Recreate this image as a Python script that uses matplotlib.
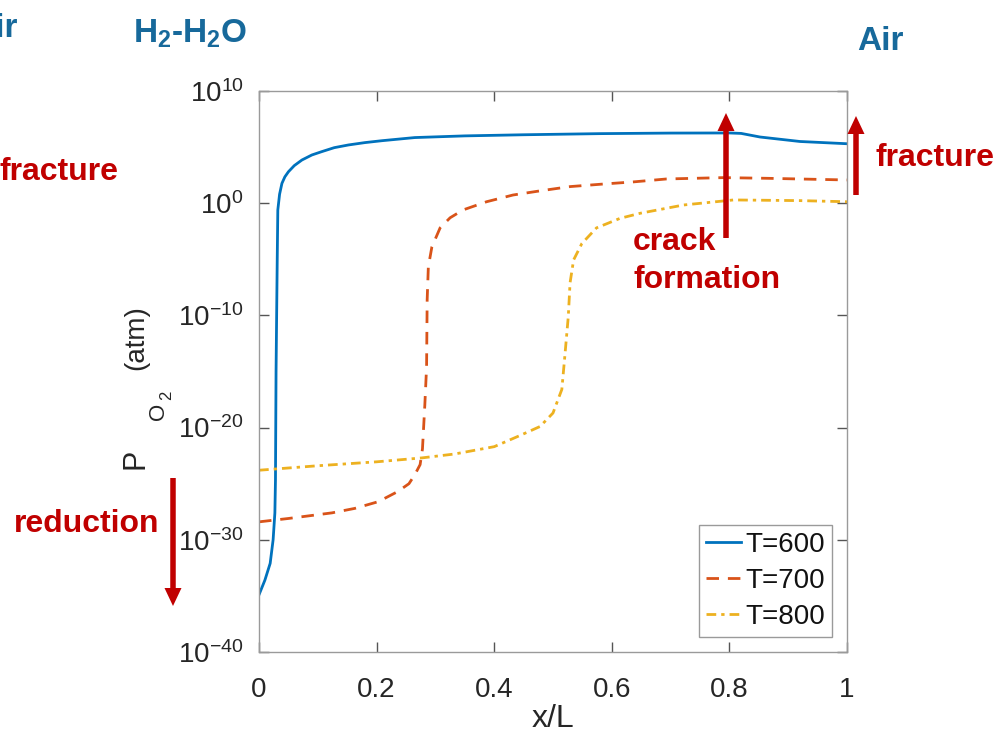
import numpy as np
import matplotlib
matplotlib.use('Agg')
import matplotlib.pyplot as plt
from matplotlib.patches import FancyArrow
from matplotlib.transforms import IdentityTransform

plt.rcParams['font.family'] = ['Liberation Sans', 'DejaVu Sans']
plt.rcParams['mathtext.fontset'] = 'custom'
plt.rcParams['mathtext.rm'] = 'Liberation Sans'
plt.rcParams['mathtext.it'] = 'Liberation Sans:italic'
plt.rcParams['mathtext.bf'] = 'Liberation Sans:bold'
plt.rcParams['axes.unicode_minus'] = False

# ---------------- data (x/L, log10 of P_O2 in atm) ----------------
x_600 = [0.0, 0.01, 0.019, 0.024, 0.027, 0.028, 0.029, 0.031, 0.032, 0.035, 0.039,
         0.044, 0.05, 0.06, 0.073, 0.09, 0.107, 0.128, 0.152, 0.18, 0.209, 0.265,
         0.35, 0.45, 0.58, 0.70, 0.80, 0.82, 0.852, 0.92, 1.0]
logp_600 = [-34.9, -33.6, -32.1, -30.0, -27.6, -24.7, -15.0, -5.0, -0.6, 0.8, 1.77,
            2.35, 2.8, 3.35, 3.85, 4.3, 4.6, 4.95, 5.19, 5.4, 5.57, 5.85,
            6.0, 6.1, 6.2, 6.25, 6.26, 6.22, 5.9, 5.5, 5.3]

x_700 = [0.0, 0.05, 0.124, 0.163, 0.203, 0.236, 0.255, 0.265, 0.274, 0.278, 0.282,
         0.285, 0.286, 0.288, 0.294, 0.308, 0.325, 0.347, 0.387, 0.432, 0.478,
         0.529, 0.586, 0.637, 0.693, 0.79, 0.863, 1.0]
logp_700 = [-28.4, -28.1, -27.6, -27.2, -26.6, -25.7, -25.0, -24.2, -23.3, -21.9, -18.0,
            -14.6, -8.6, -5.66, -3.9, -2.2, -1.3, -0.6, 0.13, 0.73, 1.1,
            1.48, 1.71, 1.9, 2.16, 2.28, 2.22, 2.07]

x_800 = [0.0, 0.1, 0.2, 0.277, 0.333, 0.4, 0.444, 0.478, 0.50, 0.515, 0.52, 0.526,
         0.529, 0.535, 0.549, 0.574, 0.614, 0.648, 0.722, 0.807, 0.92, 1.0]
logp_800 = [-23.8, -23.4, -23.05, -22.7, -22.35, -21.7, -20.7, -19.9, -18.7, -16.6,
            -13.7, -10.1, -7.1, -5.06, -3.6, -2.2, -1.35, -0.9, -0.16, 0.29, 0.23, 0.13]

series_labels = ['T=600', 'T=700', 'T=800']
x_ticks = [0, 0.2, 0.4, 0.6, 0.8, 1]
x_tick_labels = ['0', '0.2', '0.4', '0.6', '0.8', '1']
y_tick_exps = [-40, -30, -20, -10, 0, 10]

# ---------------- figure ----------------
W, H = 997, 741
fig = plt.figure(figsize=(W / 100, H / 100), dpi=100)
ax = fig.add_axes([259 / W, 1 - 652 / H, 588 / W, 561 / H])

c_blue, c_orange, c_yellow = '#0072BD', '#D95319', '#EDB120'
ax.plot(x_600, 10.0 ** np.array(logp_600), color=c_blue, lw=2.0, ls='-', label=series_labels[0])
ax.plot(x_700, 10.0 ** np.array(logp_700), color=c_orange, lw=2.0, ls=(0, (4.5, 3.2)), label=series_labels[1])
ax.plot(x_800, 10.0 ** np.array(logp_800), color=c_yellow, lw=2.0, ls=(0, (3.5, 1.8, 1.2, 1.8)), label=series_labels[2])

ax.set_yscale('log')
ax.set_xlim(0, 1)
ax.set_ylim(1e-40, 1e10)
ax.set_yticks([10.0 ** e for e in y_tick_exps])
ax.set_yticklabels([r'$\mathregular{10^{%d}}$' % e for e in y_tick_exps])
ax.yaxis.set_minor_locator(matplotlib.ticker.NullLocator())
ax.set_xticks(x_ticks)
ax.set_xticklabels(x_tick_labels)

ax.tick_params(direction='in', length=7, width=1, top=True, right=True,
               labelsize=20, color='#555555', labelcolor='#262626')
ax.tick_params(axis='x', pad=18)
ax.tick_params(axis='y', pad=11)
for s in ax.spines.values():
    s.set_color('#9a9a9a')
    s.set_linewidth(1.0)

ax.set_xlabel('x/L', fontsize=23, color='#262626', labelpad=1)

leg = ax.legend(loc='lower right', fontsize=20, frameon=True, fancybox=False,
                edgecolor='#9a9a9a', framealpha=1, borderaxespad=0.55,
                handlelength=1.25, handletextpad=0.15, labelspacing=0.36,
                borderpad=0.25)
leg.get_frame().set_linewidth(1.0)
for t in leg.get_texts():
    t.set_color('#111111')

# ---------------- annotations ----------------
blue_txt = '#17699B'
red = '#C00000'
gray_txt = '#262626'

def ftext(x, y, s, **kw):
    fig.text(x / W, 1 - y / H, s, **kw)

# y-axis label built from pieces (rotated), MATLAB-like subscript placement
def vtext(xb, ystart, s, size):
    fig.text(xb / W, 1 - ystart / H, s, fontsize=size, color=gray_txt, rotation=90,
             rotation_mode='anchor', ha='left', va='baseline')

vtext(143, 469, 'P', 22)
vtext(164, 420, 'O', 16)
vtext(171, 400, '2', 12)
vtext(143, 370, '(atm)', 20)

ftext(18, 37, 'Air', color=blue_txt, fontsize=24, fontweight='bold', ha='right', va='baseline')
ftext(133, 43, r'H$_\mathregular{2}$-H$_\mathregular{2}$O', color=blue_txt, fontsize=24,
      fontweight='bold', ha='left', va='baseline')
ftext(857, 50, 'Air', color=blue_txt, fontsize=24, fontweight='bold', ha='left', va='baseline')

ftext(0, 180, 'fracture', color=red, fontsize=23, fontweight='bold', ha='left', va='baseline')
ftext(876, 166, 'fracture', color=red, fontsize=23, fontweight='bold', ha='left', va='baseline')
ftext(633, 250, 'crack', color=red, fontsize=23, fontweight='bold', ha='left', va='baseline')
ftext(633, 288, 'formation', color=red, fontsize=23, fontweight='bold', ha='left', va='baseline')
ftext(14, 532, 'reduction', color=red, fontsize=23, fontweight='bold', ha='left', va='baseline')

def arrow(x, y_tail, y_tip):
    a = FancyArrow(x, H - y_tail, 0, -(y_tip - y_tail), width=5.5, head_width=17,
                   head_length=18, length_includes_head=True,
                   transform=IdentityTransform(), color=red, lw=0)
    fig.add_artist(a)

arrow(173, 478, 606)
arrow(726, 238, 113)
arrow(856, 195, 116)

fig.savefig('out.png', dpi=100)
